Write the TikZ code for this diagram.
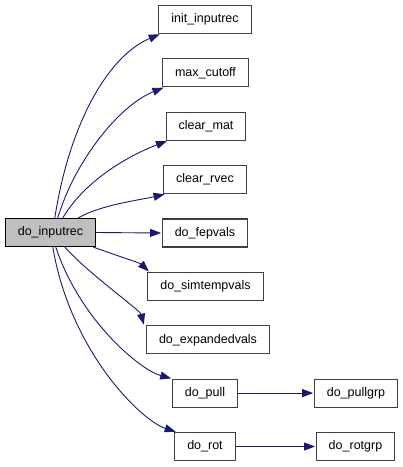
\documentclass[tikz,border=0pt]{standalone}
\usepackage{fontspec}
\setmainfont{Liberation Sans}
\usetikzlibrary{arrows.meta,calc}
\definecolor{edgeblue}{HTML}{191970}
\definecolor{boxgray}{HTML}{BFBFBF}
\definecolor{boxline}{HTML}{404040}
\begin{document}
\begin{tikzpicture}[x=1pt,y=-1pt,
  fn/.style={draw=boxline,line width=1.1pt,fill=white,minimum height=28pt,inner xsep=12.5pt,inner ysep=0pt,font=\fontsize{12.5}{14}\selectfont,anchor=center},
  cur/.style={fn,fill=boxgray,draw=black},
  call/.style={draw=edgeblue,line width=0.9pt,shorten >=0.6pt,-{Triangle[length=11pt,width=8pt]}}]
\useasboundingbox (0,0) rectangle (403,467);
\node[cur] (in) at (50.5,232.5) {do\_inputrec};
\node[fn] (init) at (205,19.5) {init\_inputrec};
\node[fn] (maxc) at (205.5,72.9) {max\_cutoff};
\node[fn] (cmat) at (206,126.3) {clear\_mat};
\node[fn] (crv) at (205,179.6) {clear\_rvec};
\node[fn] (fep) at (205,233) {do\_fepvals};
\node[fn] (sim) at (205.5,286.4) {do\_simtempvals};
\node[fn] (exp) at (208,339.8) {do\_expandedvals};
\node[fn] (pull) at (205,393.1) {do\_pull};
\node[fn] (rot) at (205,446.5) {do\_rot};
\node[fn] (pullg) at (356,393.1) {do\_pullgrp};
\node[fn] (rotg) at (355.5,446.5) {do\_rotgrp};
\draw[call] ([xshift=50pt]in.north west) .. controls (70,120) and (110,55) .. ([xshift=2pt]init.south west);
\draw[call] ([xshift=53pt]in.north west) .. controls (75,160) and (120,105) .. ([xshift=2pt]maxc.south west);
\draw[call] ([xshift=58pt]in.north west) .. controls (85,180) and (130,155) .. ([xshift=2pt]cmat.south west);
\draw[call] ([xshift=-18pt]in.north east) .. controls (100,205) and (140,200) .. ([xshift=2pt]crv.south west);
\draw[call] (in.east) -- (fep.west);
\draw[call] ([xshift=-3pt]in.south east) .. controls (115,255) and (140,263) .. ([xshift=2pt]sim.north west);
\draw[call] ([xshift=60pt]in.south west) .. controls (90,275) and (140,310) .. ([xshift=-2pt]exp.north west);
\draw[call] ([xshift=51pt]in.south west) .. controls (80,320) and (140,370) .. ([xshift=0pt]pull.north west);
\draw[call] ([xshift=48pt]in.south west) .. controls (70,350) and (140,420) .. ([xshift=2pt]rot.north west);
\draw[call] (pull) -- (pullg);
\draw[call] (rot) -- (rotg);
\end{tikzpicture}
\end{document}
